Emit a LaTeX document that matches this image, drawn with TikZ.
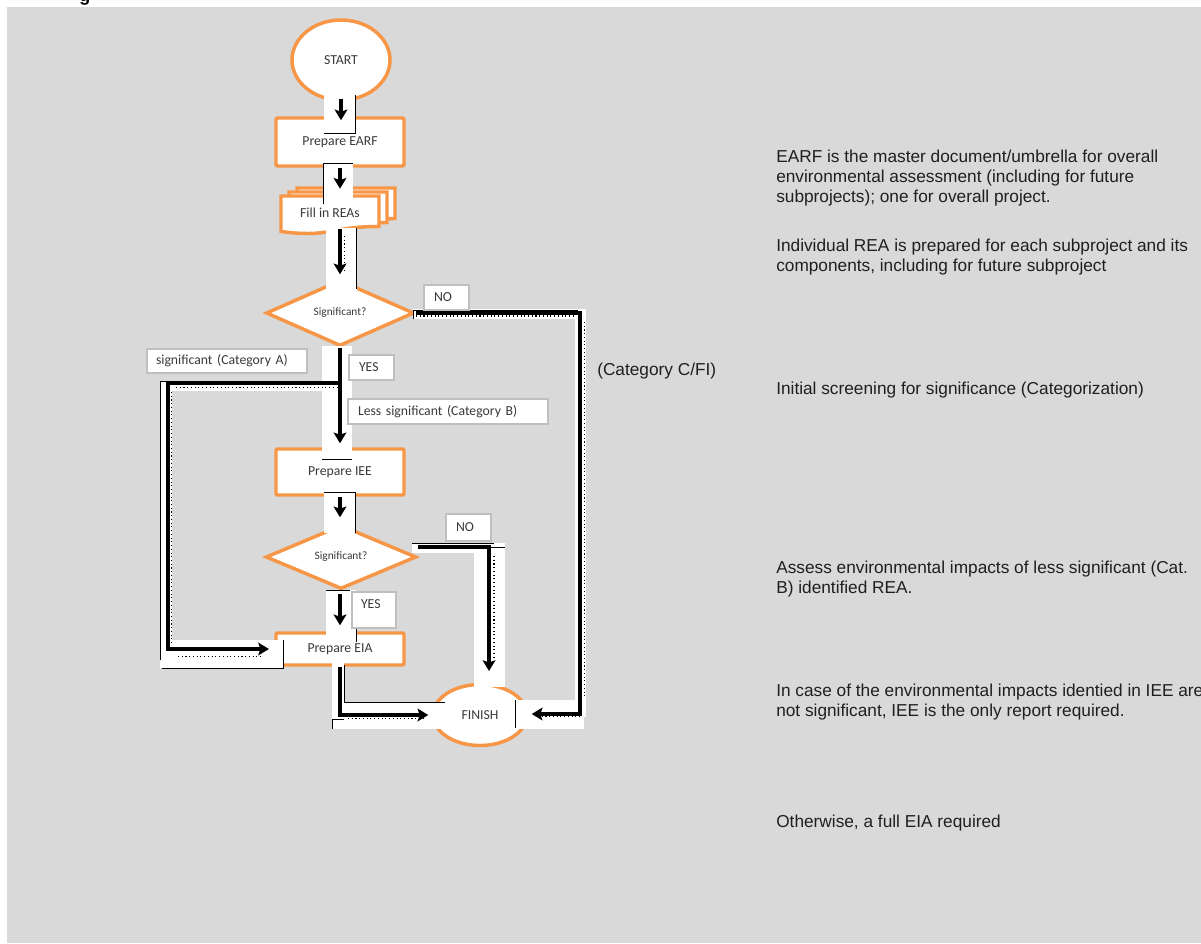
\documentclass[tikz,border=0pt]{standalone}
\usepackage{fontspec}
\setmainfont{Carlito}
\newfontfamily\arialfont{Liberation Sans}
\usetikzlibrary{shapes.geometric,arrows.meta}
\definecolor{bggray}{HTML}{D9D9D9}
\definecolor{accent}{HTML}{F79646}
\definecolor{boxgray}{HTML}{BFBFBF}
\definecolor{labelink}{HTML}{3A3A3A}

\begin{document}
\begin{tikzpicture}[x=0.75pt,y=-0.75pt,
  shapeline/.style={draw=accent, line width=2.6pt, fill=white, text=labelink,
    font=\fontsize{10.3}{12}\selectfont, inner sep=0pt},
  terminal/.style={shapeline, ellipse},
  process/.style={shapeline, rectangle, rounded corners=1pt},
  decision/.style={shapeline, diamond, font=\fontsize{8.5}{10}\selectfont},
  doc/.style={draw=accent, line width=2.6pt, fill=white},
  tag/.style={draw=boxgray, line width=1.5pt, fill=white, text=labelink,
    font=\fontsize{10.3}{12}\selectfont, align=left, anchor=north west, inner ysep=0pt},
  strip/.style={fill=white, draw=none},
  edge/.style={black, line width=0.75pt},
  conn/.style={black, line width=2.8pt, -{Stealth[length=8pt,width=9.5pt,inset=1.5pt]}},
  speck/.style={black, line width=0.8pt, dash pattern=on 0.8pt off 2pt},
  note/.style={font=\arialfont\fontsize{12.95}{14.8}\selectfont, text=black!88,
    anchor=base west, align=left, inner sep=0pt},
]
% page and panel
\useasboundingbox (0,0) rectangle (1201,943);
\fill[white] (0,0) rectangle (1201,943);
\fill[bggray] (7,7) rectangle (1201,943);
\node[font=\arialfont\bfseries\fontsize{13.5}{14}\selectfont, anchor=base west, inner sep=0pt] (headg) at (79,1) {g};

% flowchart shapes
\node[terminal, minimum width=73.5pt, minimum height=60pt] (start) at (341,60) {START};
\node[process, minimum width=96pt, minimum height=36pt] (earf) at (340,142) {Prepare EARF};
\foreach \dx/\dy in {16/-8, 8/-4, 0/0}
  \draw[doc, shift={(\dx,\dy)}] (281,196) -- (379,196) -- (379,226.5)
    .. controls (330,226.5) and (330,238) .. (281,231.5) -- cycle;
\node[text=labelink, font=\fontsize{10.3}{12}\selectfont, inner sep=0pt,
  minimum width=73.5pt, minimum height=28.5pt] (reas) at (330,213) {Fill in REAs};
\node[decision, minimum width=111pt, minimum height=49.5pt] (sig1) at (340,313) {Significant?};
\node[process, minimum width=96pt, minimum height=34.5pt] (iee) at (340,472) {Prepare IEE};
\node[decision, minimum width=113pt, minimum height=48pt] (sig2) at (341,557) {Significant?};
\node[process, minimum width=96pt, minimum height=24pt] (eia) at (340,649) {Prepare EIA};
\node[terminal, minimum width=70.5pt, minimum height=45.75pt] (finish) at (480,715) {FINISH};

% white backing strips under the connectors
\fill[strip] (324,95) rectangle (356,133);
\fill[strip] (323,163) rectangle (353,204);
\fill[strip] (326,228) rectangle (357,290);
\fill[strip] (413,309) rectangle (586,319);
\fill[strip] (575,309) rectangle (586,717);
\fill[strip] (515,700) rectangle (584,729);
\fill[strip] (322,346) rectangle (352,459);
\fill[strip] (160,381) rectangle (352,391);
\fill[strip] (160,381) rectangle (172,668);
\fill[strip] (160,640) rectangle (283,668);
\fill[strip] (324,492) rectangle (355,533);
\fill[strip] (412,543) rectangle (505,553);
\fill[strip] (474,543) rectangle (505,687);
\fill[strip] (326,590) rectangle (356,640);
\fill[strip] (332,663) rectangle (344,729);
\fill[strip] (332,702) rectangle (445,729);

% thin strip outlines
\draw[edge] (355.5,95) -- (355.5,133) -- (324,133);
\draw[edge] (323,204) -- (323,163.5) -- (353,163.5);
\draw[edge] (356.5,228) -- (356.5,289);
\draw[edge] (413,319) -- (413,310) -- (578,310);
\draw[edge] (515.5,700) -- (515.5,728);
\draw[edge] (160.5,660) -- (160.5,381.5) -- (340,381.5);
\draw[edge] (162,668) -- (283,668) -- (283,640);
\draw[edge] (322,459) -- (352,459);
\draw[edge] (324,492) -- (355,492) -- (355,533);
\draw[edge] (412,543) -- (494,543);
\draw[edge] (474,547) -- (505,547);
\draw[edge] (326,590.5) -- (350,590.5);
\draw[edge] (356,627) -- (356,642);
\draw[edge] (344,665) -- (344,702) -- (445,702);
\draw[edge] (332,729) -- (332,719) -- (344,719);

% speckle along the connectors
\draw[speck] (416,316) -- (574,316);
\draw[speck] (584.5,322) -- (584.5,698);
\draw[speck] (176,387.5) -- (340,387.5);
\draw[speck] (171.5,392) -- (171.5,645);
\draw[speck] (178,656.5) -- (262,656.5);
\draw[speck] (348,718.5) -- (424,718.5);
\draw[speck] (494,556) -- (494,664);
\draw[speck] (538,716.5) -- (580,716.5);
\draw[speck] (344.5,236) -- (344.5,272);

% connectors
\coordinate (noturn) at (580,714);
\coordinate (loopcorner) at (168,383);
\coordinate (no2end) at (489,671);
\draw[conn, shorten <=-2.25pt, shorten >=-3pt] (start.south) -- (start.south |- earf.north);
\draw[conn, shorten >=3.75pt] (earf.south) -- (earf.south |- reas.north);
\draw[conn, shorten <=-2.25pt, shorten >=3pt] (sig1.north |- reas.south) -- (sig1.north);
\draw[conn, shorten >=2.25pt] (sig1.east) -| (noturn) -- (noturn -| finish.east);
\draw[conn, shorten >=4pt] (sig1.south) |- (loopcorner) |- (eia.west);
\draw[conn, shorten >=3pt] (sig1.south) -- (iee.north);
\draw[conn, shorten >=4.5pt] (iee.south) -- (iee.south |- sig2.north);
\draw[conn] ([yshift=7.5pt]sig2.east) -| (no2end);
\draw[conn, shorten <=2.25pt, shorten >=4.5pt] (eia.north |- sig2.south) -- (eia.north);
\draw[conn, shorten >=2.25pt] (eia.south) |- (finish.west);

% branch labels
\node[tag, minimum height=18.75pt, text width=18.75pt, inner xsep=7.5pt] (no1) at (423,284) {NO};
\node[tag, minimum height=18.75pt, text width=18.75pt, inner xsep=7.5pt] (yes1) at (348,354) {YES};
\node[tag, minimum height=18pt, text width=106.5pt, inner xsep=6.75pt] (catA) at (146,348) {significant (Category A)};
\node[tag, minimum height=18.75pt, text width=135pt, inner xsep=7.5pt] (catB) at (347,398) {Less significant (Category B)};
\node[tag, minimum height=20.25pt, text width=18.75pt, inner xsep=7.5pt] (no2) at (445,513) {NO};
\node[tag, text width=19.5pt, inner xsep=6.75pt, inner ysep=3pt, text height=9pt, text depth=12pt] (yes2) at (351,591) {YES};
\node[note] (catC) at (597,375) {(Category C/FI)};

% explanatory notes (base anchor sits on the last line)
\node[note] (n1) at (776,202) {EARF is the master document/umbrella for overall\\environmental assessment (including for future\\subprojects); one for overall project.};
\node[note] (n2) at (776,271) {Individual REA is prepared for each subproject and its\\components, including for future subproject};
\node[note] (n3) at (776,394) {Initial screening for significance (Categorization)};
\node[note] (n4) at (776,593) {Assess environmental impacts of less significant (Cat.\\B) identified REA.};
\node[note] (n5) at (776,716) {In case of the environmental impacts identied in IEE are\\not significant, IEE is the only report required.};
\node[note] (n6) at (776,827) {Otherwise, a full EIA required};
\end{tikzpicture}
\end{document}
